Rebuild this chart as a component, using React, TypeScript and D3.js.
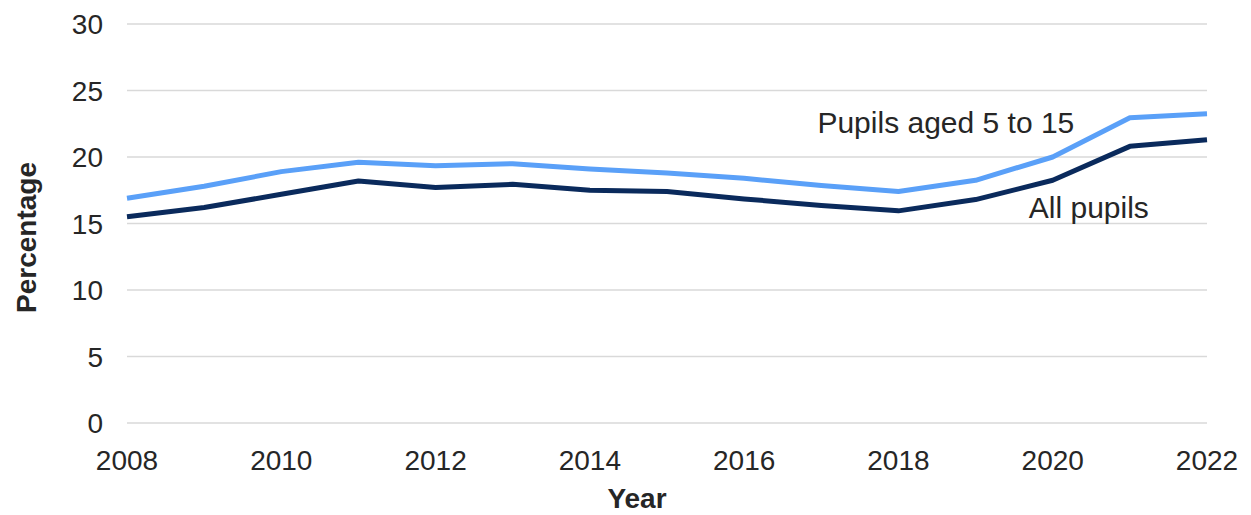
import * as d3 from "d3";

const years = [2008, 2009, 2010, 2011, 2012, 2013, 2014, 2015, 2016, 2017, 2018, 2019, 2020, 2021, 2022];
const pupils5to15 = [16.9, 17.8, 18.9, 19.6, 19.35, 19.5, 19.1, 18.8, 18.4, 17.85, 17.4, 18.25, 20.0, 22.95, 23.25];
const allPupils = [15.5, 16.2, 17.2, 18.2, 17.7, 17.95, 17.5, 17.4, 16.85, 16.35, 15.95, 16.8, 18.25, 20.8, 21.3];
const yTicks = [0, 5, 10, 15, 20, 25, 30];
const xTicks = [2008, 2010, 2012, 2014, 2016, 2018, 2020, 2022];

const WIDTH = 1251;
const HEIGHT = 515;
const margin = { top: 24, right: 44, bottom: 92, left: 127 };
const FONT = "'Liberation Sans', Arial, sans-serif";
const TEXT = "#262626";

export default function App() {
  const innerW = WIDTH - margin.left - margin.right;
  const innerH = HEIGHT - margin.top - margin.bottom;

  const x = d3.scaleLinear().domain([2008, 2022]).range([0, innerW]);
  const y = d3.scaleLinear().domain([0, 30]).range([innerH, 0]);

  const line = d3
    .line<number>()
    .x((_, i) => x(years[i]))
    .y((d) => y(d));

  return (
    <svg
      width={WIDTH}
      height={HEIGHT}
      style={{ position: "absolute", left: 0, top: 0, background: "#fff" }}
      fontFamily={FONT}
    >
      <g transform={`translate(${margin.left},${margin.top})`}>
        {/* Grid */}
        {yTicks.map((t) => (
          <line key={t} x1={0} x2={innerW} y1={y(t)} y2={y(t)} stroke="#d9d9d9" strokeWidth={1.5} />
        ))}

        {/* Y axis labels */}
        {yTicks.map((t) => (
          <text key={t} x={-24} y={y(t) + 10} textAnchor="end" fontSize={28} fill={TEXT}>
            {t}
          </text>
        ))}

        {/* X axis labels */}
        {xTicks.map((t) => (
          <text key={t} x={x(t)} y={innerH + 47} textAnchor="middle" fontSize={28} fill={TEXT}>
            {t}
          </text>
        ))}

        {/* Lines */}
        <path d={line(pupils5to15)!} fill="none" stroke="#5aa0f8" strokeWidth={5} strokeLinejoin="round" />
        <path d={line(allPupils)!} fill="none" stroke="#0a2a5c" strokeWidth={5} strokeLinejoin="round" />

        {/* Series labels */}
        <text x={x(2016.95)} y={y(21.8)} fontSize={30} fill={TEXT}>
          Pupils aged 5 to 15
        </text>
        <text x={x(2019.69)} y={y(15.4)} fontSize={30} fill={TEXT}>
          All pupils
        </text>

        {/* Axis titles */}
        <text x={innerW / 2 - 30} y={innerH + 85} textAnchor="middle" fontSize={28} fontWeight={700} fill={TEXT}>
          Year
        </text>
        <text
          transform={`translate(${-91},${innerH / 2 + 14}) rotate(-90)`}
          textAnchor="middle"
          fontSize={28}
          fontWeight={700}
          fill={TEXT}
        >
          Percentage
        </text>
      </g>
    </svg>
  );
}
